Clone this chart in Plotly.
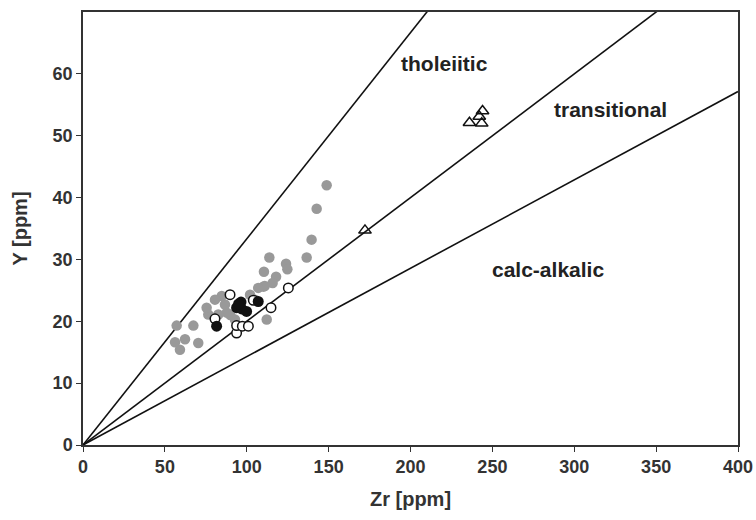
import plotly.graph_objects as go

# Discriminant boundary lines: Zr/Y ratios
boundary_ratios = [3, 5, 7]
zr_line_end = 400

# Grey filled circles
gray_zr = [148.8, 142.7, 139.6, 136.6, 113.8, 124.0, 124.8, 110.5, 117.9, 115.8, 110.1,
           111.0, 107.0, 105.0, 102.0, 112.2, 92.8, 87.8, 86.7, 82.6, 84.7, 80.6, 76.5, 75.5,
           57.2, 67.4, 62.3, 56.2, 59.2, 70.4, 90.0]
gray_y = [42.0, 38.2, 33.2, 30.3, 30.3, 29.3, 28.4, 28.0, 27.2, 26.2, 25.6,
          25.7, 25.4, 23.5, 24.3, 20.3, 20.3, 21.4, 22.7, 21.1, 24.1, 23.5, 21.1, 22.2,
          19.3, 19.3, 17.1, 16.6, 15.4, 16.5, 21.0]

# Open circles
open_zr = [89.8, 80.6, 125.4, 114.8, 104.0, 93.8, 93.8, 97.3, 101.0]
open_y = [24.3, 20.4, 25.4, 22.2, 23.4, 18.1, 19.3, 19.2, 19.2]

# Black filled circles
black_zr = [96.5, 93.8, 96.9, 99.9, 81.6, 107.0, 95.0]
black_y = [23.1, 22.2, 22.0, 21.6, 19.2, 23.2, 22.8]

# Open triangles
tri_zr = [236.0, 244.0, 242.0, 243.5, 172.2]
tri_y = [52.1, 54.0, 53.1, 52.0, 34.7]

# Field labels
field_labels = ["tholeiitic", "transitional", "calc-alkalic"]
field_label_zr = [220.5, 322.4, 284.0]
field_label_y = [61.7, 54.3, 28.4]

x_ticks = [0, 50, 100, 150, 200, 250, 300, 350, 400]
y_ticks = [0, 10, 20, 30, 40, 50, 60]

FONT = "Liberation Sans"
fig = go.Figure()

for r in boundary_ratios:
    fig.add_trace(go.Scatter(x=[0, zr_line_end], y=[0, zr_line_end / r], mode="lines",
                             line=dict(color="#111111", width=1.6), showlegend=False,
                             hoverinfo="skip"))

fig.add_trace(go.Scatter(x=gray_zr, y=gray_y, mode="markers", showlegend=False,
                         marker=dict(color="#999999", size=10.5, line=dict(width=0))))
fig.add_trace(go.Scatter(x=open_zr, y=open_y, mode="markers", showlegend=False,
                         marker=dict(color="white", size=9.5, line=dict(color="#111111", width=1.5))))
fig.add_trace(go.Scatter(x=black_zr, y=black_y, mode="markers", showlegend=False,
                         marker=dict(color="#111111", size=11, line=dict(width=0))))
fig.add_trace(go.Scatter(x=tri_zr, y=tri_y, mode="markers", showlegend=False,
                         marker=dict(symbol="triangle-up-open", color="#111111", size=11,
                                     line=dict(color="#111111", width=1.5))))

for t, xx, yy in zip(field_labels, field_label_zr, field_label_y):
    fig.add_annotation(x=xx, y=yy, text=t, showarrow=False,
                       font=dict(family=FONT, size=21, color="#222222", weight="bold"))

axis_common = dict(showgrid=False, zeroline=False, showline=True, linecolor="#333333",
                   linewidth=1.5, mirror=True, ticks="outside", ticklen=5, tickwidth=1.2,
                   tickcolor="#333333", automargin=False,
                   tickfont=dict(family=FONT, size=18, color="#333333", weight="bold"))

fig.update_xaxes(range=[0, 400], tickvals=x_ticks,
                 title=dict(text="Zr [ppm]", font=dict(family=FONT, size=20, color="#333333", weight="bold"),
                            standoff=16),
                 **axis_common)
fig.update_yaxes(range=[0, 70], tickvals=y_ticks,
                 title=dict(text="Y [ppm]", font=dict(family=FONT, size=20, color="#333333", weight="bold"),
                            standoff=20),
                 **axis_common)

fig.update_layout(width=756, height=520, plot_bgcolor="white", paper_bgcolor="white",
                  margin=dict(l=83, r=18, t=12, b=75))

fig.write_html("out.html")
